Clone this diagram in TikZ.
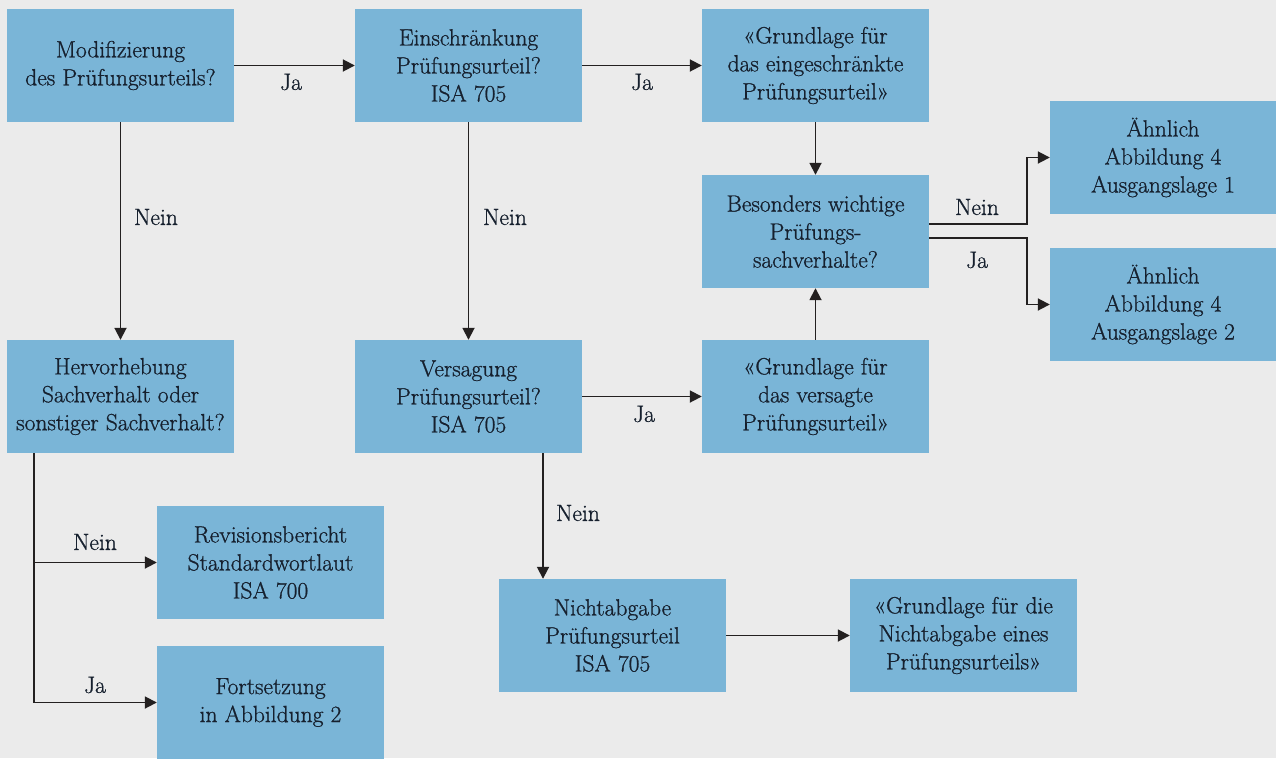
\documentclass[tikz,border=0pt]{standalone}
\usepackage{fontspec}
\setmainfont{Latin Modern Roman}[FakeBold=0.9]
\usetikzlibrary{arrows.meta,calc}
\definecolor{bg}{RGB}{235,235,235}
\definecolor{boxblue}{RGB}{122,181,215}
\definecolor{ink}{RGB}{22,32,46}
\definecolor{linec}{RGB}{35,32,32}
\begin{document}
\begin{tikzpicture}[x=1pt,y=-1pt,
  box/.style={fill=boxblue, minimum width=227pt, minimum height=113pt, inner sep=0pt,
    align=center, text=ink, font=\fontsize{23.5}{28}\selectfont},
  lbl/.style={text=ink, inner sep=0pt, font=\fontsize{23.5}{28}\selectfont},
  conn/.style={draw=linec, line width=1.8pt, -{Triangle[length=12pt,width=12pt]}},
  plain/.style={draw=linec, line width=1.8pt}]
\fill[bg] (0,0) rectangle (1276,758);
\useasboundingbox (0,0) rectangle (1276,758);

\node[box] (A) at (120.5,65.5) {Modifizierung\\des Prüfungsurteils?};
\node[box] (B) at (468.5,65.5) {Einschränkung\\Prüfungsurteil?\\ISA 705};
\node[box] (C) at (815.5,65.5) {«Grundlage für\\das eingeschränkte\\Prüfungsurteil»};
\node[box] (D) at (815.5,231.5) {Besonders wichtige\\Prüfungs-\\sachverhalte?};
\node[box, minimum width=226pt] (E1) at (1163,157.5) {Ähnlich\\Abbildung 4\\Ausgangslage 1};
\node[box, minimum width=226pt] (E2) at (1163,304.5) {Ähnlich\\Abbildung 4\\Ausgangslage 2};
\node[box] (F) at (120.5,396.5) {Hervorhebung\\Sachverhalt oder\\sonstiger Sachverhalt?};
\node[box] (G) at (468.5,396.5) {Versagung\\Prüfungsurteil?\\ISA 705};
\node[box] (H) at (815.5,396.5) {«Grundlage für\\das versagte\\Prüfungsurteil»};
\node[box] (I) at (270.5,562.5) {Revisionsbericht\\Standardwortlaut\\ISA 700};
\node[box] (J) at (270.5,702.5) {Fortsetzung\\in Abbildung 2};
\node[box] (K) at (612.5,635.5) {Nichtabgabe\\Prüfungsurteil\\ISA 705};
\node[box] (L) at (963.5,635.5) {«Grundlage für die\\Nichtabgabe eines\\Prüfungsurteils»};

\coordinate (turn) at (1027,231.5);

\draw[conn] (A) -- (B);
\draw[conn] (B) -- (C);
\draw[conn] (A) -- (F);
\draw[conn] (B) -- (G);
\draw[conn] (C) -- (D);
\draw[conn] (H) -- (D);
\draw[conn] (G) -- (H);
\draw[conn] (K) -- (L);
\draw[conn] ([yshift=7.5pt]D.east) -- ([yshift=7.5pt]D.east -| turn) |- (E1.west);
\draw[conn] ([yshift=-6.5pt]D.east) -- ([yshift=-6.5pt]D.east -| turn) |- (E2.west);
\draw[conn] ([xshift=74.5pt]G.south) -- ([xshift=74.5pt]G.south |- K.north);
\draw[conn] ([xshift=-86.5pt]F.south) |- (I.west);
\draw[conn] ([xshift=-86.5pt]F.south) |- (J.west);

\node[lbl] (l1) at (291,82) {Ja};
\node[lbl] (l2) at (642,82) {Ja};
\node[lbl] (l3) at (156,217) {Nein};
\node[lbl] (l4) at (505,217) {Nein};
\node[lbl] (l5) at (977,207) {Nein};
\node[lbl] (l6) at (977,260) {Ja};
\node[lbl] (l7) at (644,414) {Ja};
\node[lbl] (l8) at (578,513) {Nein};
\node[lbl] (l9) at (95,542) {Nein};
\node[lbl] (l10) at (95,685) {Ja};
\end{tikzpicture}
\end{document}
